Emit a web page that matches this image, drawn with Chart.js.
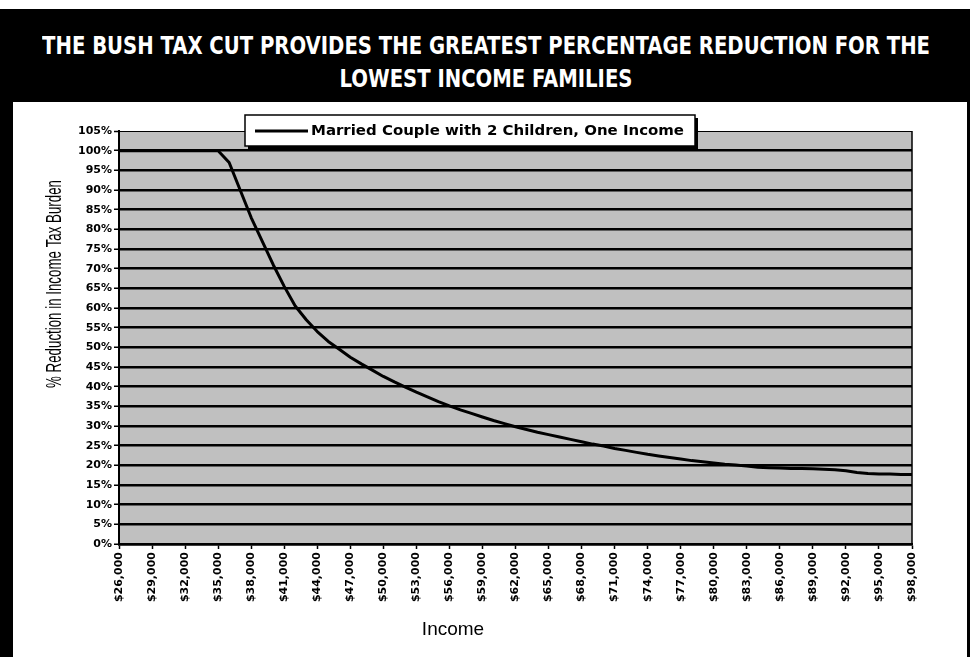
<!DOCTYPE html>
<html>
<head>
<meta charset="utf-8">
<script src="https://cdn.jsdelivr.net/npm/chart.js@4.4.1/dist/chart.umd.min.js"></script>
<style>
  html, body { margin: 0; padding: 0; background: #fff; }
  #page { position: relative; width: 972px; height: 657px; overflow: hidden; background: #fff; }
  #frame { position: absolute; left: 0; top: 9px; width: 970px; height: 648px; background: #000; }
  #panel { position: absolute; left: 13px; top: 102px; width: 954px; height: 555px; background: #fff; }
  #heading {
    position: absolute; left: -55px; top: 30px; width: 1082px;
    color: #fff; text-align: center;
    font-family: "DejaVu Sans Condensed", "DejaVu Sans", sans-serif;
    font-weight: bold; font-size: 24px; line-height: 33px;
  }
  #heading span { display: inline-block; white-space: nowrap; transform-origin: center center; }
  #chart { position: absolute; left: 0; top: 0; }
</style>
</head>
<body>
<div id="page">
  <div id="frame"></div>
  <div id="panel"></div>
  <div id="heading"><span id="h1">THE BUSH TAX CUT PROVIDES THE GREATEST PERCENTAGE REDUCTION FOR THE</span><br><span id="h2">LOWEST INCOME FAMILIES</span></div>
  <canvas id="chart" width="972" height="657"></canvas>
</div>
<script>
// Household income, in dollars
const incomes = [
  26000, 27000, 28000, 29000, 30000, 31000, 32000, 33000, 34000, 35000,
  36000, 37000, 38000, 39000, 40000, 41000, 42000, 43000, 44000, 45000,
  46000, 47000, 48000, 49000, 50000, 51000, 52000, 53000, 54000, 55000,
  56000, 57000, 58000, 59000, 60000, 61000, 62000, 63000, 64000, 65000,
  66000, 67000, 68000, 69000, 70000, 71000, 72000, 73000, 74000, 75000,
  76000, 77000, 78000, 79000, 80000, 81000, 82000, 83000, 84000, 85000,
  86000, 87000, 88000, 89000, 90000, 91000, 92000, 93000, 94000, 95000,
  96000, 97000, 98000
];

// Percentage reduction in income tax burden at each income level
const reduction = [
  100, 100, 100, 100, 100, 100, 100, 100, 100, 100,
  97, 90, 83, 77, 71, 65.5, 60.5, 57, 54, 51.5,
  49.5, 47.5, 45.8, 44.2, 42.6, 41.2, 39.9, 38.6, 37.4, 36.2,
  35.1, 34.1, 33.2, 32.3, 31.4, 30.6, 29.8, 29.1, 28.4, 27.8,
  27.2, 26.6, 26.0, 25.4, 24.9, 24.3, 23.8, 23.3, 22.8, 22.4,
  22.0, 21.6, 21.2, 20.9, 20.6, 20.3, 20.1, 19.8, 19.5, 19.4,
  19.3, 19.2, 19.2, 19.1, 19.0, 18.9, 18.6, 18.2, 17.9, 17.8,
  17.8, 17.7, 17.7
];

const seriesLabel = "Married Couple with 2 Children, One Income";
const xAxisTitle = "Income";
const yAxisTitle = "% Reduction in Income Tax Burden";

// x axis: $26,000 .. $98,000 every $3,000; y axis: 0% .. 105% every 5%
const xMin = 26000, xMax = 98000, xStep = 3000;
const yMin = 0, yMax = 105, yStep = 5;

const tickFont = { family: "DejaVu Sans", weight: "bold", size: 11 };

// Squeeze the heading lines to the width of the banner text
(function fitHeading() {
  const h1 = document.getElementById("h1");
  const h2 = document.getElementById("h2");
  const k = 888 / h1.getBoundingClientRect().width;
  h1.style.transform = "scaleX(" + k + ")";
  h2.style.transform = "scaleX(" + k + ")";
})();

// Grey plot background and right-hand border of the plot area
const plotFrame = {
  id: "plotFrame",
  beforeDraw(chart) {
    const { ctx, chartArea: a } = chart;
    ctx.save();
    ctx.fillStyle = "#c0c0c0";
    ctx.fillRect(a.left, a.top, a.right - a.left, a.bottom - a.top);
    ctx.restore();
  },
  beforeDatasetsDraw(chart) {
    const { ctx, chartArea: a } = chart;
    ctx.save();
    ctx.strokeStyle = "#000";
    ctx.lineWidth = 1.5;
    ctx.beginPath();
    ctx.moveTo(a.right, a.top);
    ctx.lineTo(a.right, a.bottom);
    ctx.stroke();
    ctx.restore();
  }
};

// Boxed legend with a drop shadow, overlapping the top of the plot
const boxedLegend = {
  id: "boxedLegend",
  afterDraw(chart) {
    const { ctx, chartArea: a } = chart;
    const ds = chart.data.datasets[0];
    const x0 = a.left + 126, y0 = a.top - 16, w = 450, h = 31;
    ctx.save();
    ctx.fillStyle = "#000";
    ctx.fillRect(x0 + 3, y0 + 3, w, h);
    ctx.fillStyle = "#fff";
    ctx.fillRect(x0, y0, w, h);
    ctx.strokeStyle = "#000";
    ctx.lineWidth = 1.5;
    ctx.strokeRect(x0, y0, w, h);
    const cy = y0 + 16;
    ctx.strokeStyle = ds.borderColor;
    ctx.lineWidth = ds.borderWidth;
    ctx.beginPath();
    ctx.moveTo(x0 + 10, cy);
    ctx.lineTo(x0 + 63, cy);
    ctx.stroke();
    ctx.fillStyle = "#000";
    ctx.font = "bold 14px 'DejaVu Sans'";
    ctx.textBaseline = "middle";
    ctx.textAlign = "left";
    const tw = ctx.measureText(ds.label).width;
    ctx.translate(x0 + 66, cy);
    ctx.scale(373 / tw, 1);
    ctx.fillText(ds.label, 0, 0);
    ctx.restore();
  }
};

// Axis titles
const axisTitles = {
  id: "axisTitles",
  afterDraw(chart) {
    const { ctx, chartArea: a } = chart;
    ctx.save();
    ctx.fillStyle = "#000";
    ctx.textAlign = "center";
    ctx.textBaseline = "middle";
    // vertical title
    ctx.font = "22px 'Liberation Sans', Arial, sans-serif";
    const tw = ctx.measureText(yAxisTitle).width;
    ctx.translate(a.left - 64, a.top + 153);
    ctx.rotate(-Math.PI / 2);
    ctx.scale(208 / tw, 1);
    ctx.fillText(yAxisTitle, 0, 0);
    ctx.restore();
    ctx.save();
    ctx.fillStyle = "#000";
    ctx.textAlign = "center";
    ctx.textBaseline = "middle";
    ctx.font = "19px 'Liberation Sans', Arial, sans-serif";
    ctx.fillText(xAxisTitle, a.left + 334, a.bottom + 86);
    ctx.restore();
  }
};

new Chart(document.getElementById("chart"), {
  type: "line",
  data: {
    datasets: [{
      label: seriesLabel,
      data: incomes.map((x, i) => ({ x: x, y: reduction[i] })),
      borderColor: "#000",
      borderWidth: 3,
      pointRadius: 0,
      tension: 0,
      fill: false,
      borderJoinStyle: "round"
    }]
  },
  options: {
    responsive: false,
    animation: false,
    layout: { padding: { top: 131, right: 60, left: 0, bottom: 0 } },
    plugins: {
      legend: { display: false },
      title: { display: false },
      tooltip: { enabled: false }
    },
    scales: {
      x: {
        type: "linear",
        min: xMin, max: xMax,
        border: { display: true, color: "#000", width: 2.5 },
        grid: { drawOnChartArea: false, drawTicks: true, tickLength: 5, color: "#000", tickWidth: 1.5 },
        ticks: {
          stepSize: xStep,
          autoSkip: false,
          minRotation: 90, maxRotation: 90,
          padding: 3,
          color: "#000",
          font: tickFont,
          callback: (v) => "$" + Number(v).toLocaleString("en-US")
        },
        afterFit(scale) { scale.height = 113; }
      },
      y: {
        min: yMin, max: yMax,
        border: { display: true, color: "#000", width: 2 },
        grid: {
          color: "#000",
          lineWidth: (c) => (c.tick && c.tick.value === yMax ? 1 : 2.5),
          tickLength: 5,
          tickWidth: 1.5,
          tickColor: "#000"
        },
        ticks: {
          stepSize: yStep,
          padding: 2,
          color: "#000",
          font: tickFont,
          callback: (v) => v + "%"
        },
        afterFit(scale) { scale.width = 119; }
      }
    }
  },
  plugins: [plotFrame, boxedLegend, axisTitles]
});
</script>
</body>
</html>
